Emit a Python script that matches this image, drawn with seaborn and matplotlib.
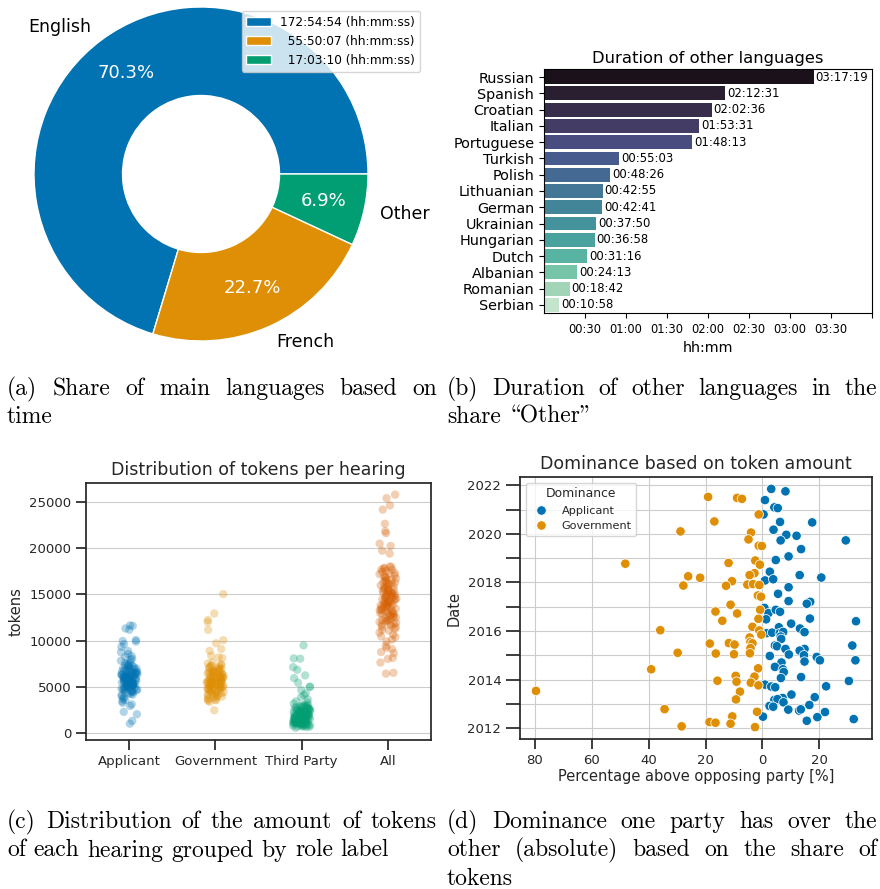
import numpy as np
import pandas as pd
import seaborn as sns
import matplotlib.pyplot as plt
from matplotlib.ticker import FuncFormatter, MultipleLocator

# ---- data: (a) main languages ----
main_langs = ["English", "French", "Other"]
main_durations = ["172:54:54", "55:50:07", "17:03:10"]

# ---- data: (b) other languages ----
other_langs = ["Russian", "Spanish", "Croatian", "Italian", "Portuguese", "Turkish",
               "Polish", "Lithuanian", "German", "Ukrainian", "Hungarian", "Dutch",
               "Albanian", "Romanian", "Serbian"]
other_durations = ["03:17:19", "02:12:31", "02:02:36", "01:53:31", "01:48:13", "00:55:03",
                   "00:48:26", "00:42:55", "00:42:41", "00:37:50", "00:36:58", "00:31:16",
                   "00:24:13", "00:18:42", "00:10:58"]

# ---- data: (c) tokens per hearing ----
roles = ["Applicant", "Government", "Third Party", "All"]
applicant_tokens = [11640, 11590, 11310, 11170, 10060, 9890, 9950, 9610, 9320, 8870, 8730, 8540,
                    8310, 8220, 8010, 7940, 7820, 7610, 7570, 7460, 7330, 7270, 7190, 7030, 6990,
                    6910, 6840, 6730, 6720, 6640, 6570, 6510, 6480, 6420, 6370, 6290, 6260, 6230,
                    6170, 6120, 6080, 6010, 5990, 5960, 5910, 5870, 5820, 5760, 5740, 5680, 5620,
                    5580, 5530, 5490, 5440, 5390, 5350, 5280, 5230, 5210, 5160, 5090, 5040, 4990,
                    4960, 4880, 4810, 4770, 4710, 4650, 4540, 4470, 4410, 4290, 4230, 4120, 3980,
                    3850, 3690, 3440, 3260, 2930, 2280, 2030, 1310, 1010,
                    4150, 4380, 4620, 4890, 5060, 5190, 5320, 5470, 5560, 5640, 5710, 5790, 5850,
                    5940, 6040, 6110, 6190, 6320, 6440, 6590, 6680, 6810, 6960, 7120, 7380, 5030,
                    5510, 6060, 6250, 5880, 4560, 4730, 5400, 6350, 4920, 5250, 6700, 7220, 3570,
                    3100]
government_tokens = [15030, 12920, 12230, 11990, 11160, 10040, 9710, 9090, 8880, 8350, 8180, 8110,
                     7630, 7510, 7360, 7280, 7170, 7090, 7010, 6940, 6860, 6790, 6720, 6650, 6590,
                     6530, 6470, 6410, 6340, 6290, 6240, 6180, 6130, 6070, 6020, 5980, 5930, 5880,
                     5840, 5790, 5730, 5690, 5640, 5600, 5560, 5510, 5470, 5420, 5380, 5330, 5290,
                     5240, 5200, 5150, 5110, 5060, 5010, 4970, 4920, 4860, 4810, 4750, 4690, 4620,
                     4560, 4490, 4420, 4350, 4270, 4190, 4110, 4030, 3940, 3850, 3730, 3620, 3540,
                     3470, 3390, 2460,
                     3610, 3880, 4050, 4240, 4460, 4640, 4780, 4950, 5080, 5170, 5270, 5350, 5450,
                     5530, 5620, 5760, 5850, 5950, 6050, 6150, 6310, 6440, 6560, 6700, 6880, 7060,
                     7240, 7420, 4400, 5700, 6000, 5400, 4900, 5000, 6600]
third_party_tokens = [9480, 8070, 8040, 7120, 6830, 6230, 5940, 5430, 5020, 4970, 4630, 4280, 4110,
                      3870, 3640, 3420, 3310, 3180, 3060, 2980, 2920, 2870, 2810, 2760, 2730, 2680,
                      2620, 2590, 2540, 2490, 2450, 2410, 2370, 2330, 2290, 2260, 2220, 2180, 2150,
                      2110, 2080, 2040, 2010, 1980, 1950, 1920, 1890, 1860, 1830, 1800, 1770, 1740,
                      1710, 1690, 1660, 1630, 1600, 1580, 1550, 1520, 1490, 1470, 1440, 1410, 1390,
                      1360, 1330, 1310, 1280, 1250, 1230, 1200, 1170, 1140, 1120, 1090, 1060, 1030,
                      1000, 970, 940, 910, 880, 850, 810, 770, 720, 680, 630, 560,
                      700, 820, 960, 1050, 1150, 1210, 1320, 1420, 1540, 1610, 1720, 1850, 1960,
                      2060, 2200, 2350, 2480, 2650, 1100, 1500, 1900, 1380, 1680, 2130, 940, 1260,
                      780, 1580, 2400, 2900, 3000, 2780]
all_tokens = [25790, 25410, 24630, 24170, 22640, 21830, 21620, 20490, 20240, 19730, 19410, 18020,
              17960, 17870, 17790, 17650, 17530, 17440, 17310, 17180, 17060, 16940, 16870, 16720,
              16610, 16540, 16390, 16280, 16170, 16050, 15980, 15870, 15760, 15690, 15580, 15470,
              15390, 15310, 15220, 15140, 15060, 14970, 14890, 14810, 14730, 14640, 14550, 14470,
              14390, 14310, 14220, 14140, 14060, 13980, 13890, 13810, 13720, 13640, 13550, 13460,
              13380, 13290, 13210, 13120, 13030, 12940, 12860, 12770, 12680, 12590, 12510, 12420,
              12330, 12240, 12150, 12060, 11940, 11830, 11710, 11590, 11430, 11260, 11090, 10880,
              10640, 10370, 10110, 9890, 9440, 9080, 8760, 8130, 8020, 7620, 6510, 6420,
              10450, 11180, 11820, 12200, 12640, 13000, 13330, 13590, 13850, 14100, 14350, 14600,
              14900, 15180, 15430, 15820, 16110, 16480, 16800, 17250, 17700, 13250, 14030, 14680,
              15540, 12890, 14460, 16330, 11520, 12020, 9220, 8640, 15010, 13700]

# ---- data: (d) dominance (government plotted on the negative side) ----
applicant_pct = [3.1, 8.1, 0.9, 4.2, 5.4, 0.4, 6.2, 17.5, 3.9, 8.4, 12.0, 6.4, 29.3, 13.6, 9.2,
                 4.7, 2.6, 13.1, 20.7, 0.9, 3.8, 9.2, 5.5, 9.2, 16.8, 15.6, 0.7, 2.1, 4.7, 6.2,
                 1.3, 16.7, 32.9, 10.1, 5.8, 13.2, 14.8, 1.5, 3.4, 6.1, 7.3, 6.4, 6.6, 4.4, 5.1,
                 31.6, 8.1, 14.8, 13.1, 2.6, 9.3, 14.6, 19.1, 14.8, 20.2, 32.7, 6.7, 4.4, 7.2,
                 7.5, 6.5, 13.6, 30.4, 0.9, 3.1, 4.5, 22.4, 10.2, 7.1, 4.2, 5.3, 18.4, 7.4, 2.5,
                 3.8, 16.5, 9.1, 12.9, 13.5, 22.0, 0.2, 19.3, 15.6, 32.1]
applicant_date = [2021.85, 2021.75, 2021.39, 2021.09, 2021.06, 2020.80, 2020.49, 2020.47, 2020.17,
                  2019.96, 2019.92, 2019.73, 2019.73, 2019.37, 2019.07, 2018.92, 2018.44, 2018.30,
                  2018.20, 2018.08, 2018.13, 2017.80, 2017.53, 2017.23, 2017.20, 2017.12, 2016.95,
                  2016.73, 2016.87, 2016.79, 2016.48, 2016.51, 2016.40, 2016.30, 2016.15, 2016.10,
                  2015.95, 2015.91, 2015.93, 2015.91, 2015.96, 2015.77, 2015.67, 2015.40, 2015.37,
                  2015.40, 2015.26, 2015.26, 2015.19, 2014.97, 2015.03, 2015.00, 2014.93, 2014.74,
                  2014.79, 2014.79, 2014.70, 2014.52, 2014.42, 2014.31, 2014.06, 2014.10, 2013.94,
                  2013.79, 2013.71, 2013.68, 2013.72, 2013.38, 2013.24, 2013.16, 2013.19, 2013.27,
                  2013.06, 2012.91, 2012.88, 2012.95, 2012.76, 2012.72, 2012.77, 2012.66, 2012.47,
                  2012.45, 2012.30, 2012.37]
government_pct = [-19.1, -8.9, -7.2, -1.3, -16.9, -28.8, -4.0, -4.9, -1.3, -0.2, -48.2, -11.9, -2.5,
                  -0.9, -26.1, -21.9, -2.8, -4.5, -10.7, -27.8, -12.8, -5.3, -3.3, -1.1, -1.6, -0.5,
                  -11.2, -16.5, -8.9, -0.8, -14.1, -1.4, -35.9, -3.5, -1.1, -0.4, -4.5, -4.2, -3.5,
                  -18.5, -11.8, -9.8, -4.2, -29.8, -16.4, -10.0, -4.4, -39.1, -1.5, -9.4, -2.8,
                  -15.8, -9.1, -4.1, -1.4, -79.6, -7.9, -9.3, -34.4, -1.9, -10.6, -18.6, -16.5,
                  -11.2, -28.4, -2.6]
government_date = [2021.52, 2021.48, 2021.44, 2020.80, 2020.51, 2020.10, 2020.05, 2019.77, 2019.51,
                   2019.50, 2018.77, 2018.80, 2018.90, 2018.73, 2018.25, 2018.19, 2018.38, 2018.30,
                   2018.05, 2017.87, 2017.86, 2017.91, 2017.93, 2017.89, 2017.46, 2017.41, 2017.08,
                   2016.80, 2016.72, 2016.87, 2016.42, 2016.50, 2016.03, 2016.17, 2016.02, 2015.85,
                   2015.73, 2015.55, 2015.49, 2015.48, 2015.50, 2015.44, 2015.29, 2015.10, 2015.07,
                   2015.04, 2015.08, 2014.42, 2014.46, 2014.15, 2014.12, 2013.95, 2013.91, 2013.87,
                   2013.76, 2013.53, 2013.50, 2013.18, 2012.78, 2012.67, 2012.48, 2012.25, 2012.22,
                   2012.18, 2012.07, 2012.04]

# ---- captions ----
captions = {
    "a": ["(a) Share of main languages based on", "time"],
    "b": ["(b) Duration of other languages in the", "share \\Other\""],
    "c": ["(c) Distribution of the amount of tokens", "of each hearing grouped by role label"],
    "d": ["(d) Dominance one party has over the", "other (absolute) based on the share of", "tokens"],
}

W, H = 880, 889


def rect(x0, y0, x1, y1):
    return [x0 / W, 1 - y1 / H, (x1 - x0) / W, (y1 - y0) / H]


def to_seconds(s):
    h, m, sec = (int(v) for v in s.split(":"))
    return h * 3600 + m * 60 + sec


fig = plt.figure(figsize=(W / 100, H / 100), dpi=100)
cb = sns.color_palette("colorblind")

# ---------- (a) donut ----------
ax_a = fig.add_axes(rect(34, 7, 368, 341))
main_secs = [to_seconds(d) for d in main_durations]
wedges, texts, autotexts = ax_a.pie(
    main_secs, labels=main_langs, colors=cb[:3], autopct="%.1f%%",
    pctdistance=0.75, labeldistance=1.1,
    wedgeprops=dict(width=0.53, edgecolor="white", linewidth=1),
    textprops=dict(fontsize=12.5))
for t in autotexts:
    t.set_color("white")
    t.set_fontsize(13)
ax_a.set_xlim(-1, 1)
ax_a.set_ylim(-1, 1)
leg_labels = [f"{d:>9} (hh:mm:ss)".replace(" ", "\u2007", 9 - len(d)) for d in main_durations]
ax_a.legend(wedges, leg_labels, loc="upper right", bbox_to_anchor=(420 / W, 1 - 11 / H),
            bbox_transform=fig.transFigure, borderaxespad=0, fontsize=8.7)

# ---------- (b) other languages ----------
ax_b = fig.add_axes(rect(544, 69, 872, 313))
other_secs = [to_seconds(d) for d in other_durations]
sns.barplot(x=other_secs, y=other_langs, hue=other_langs, palette="mako", legend=False,
            width=0.85, orient="h", ax=ax_b)
for cont, lab in zip(ax_b.containers, other_durations):
    ax_b.bar_label(cont, labels=[lab], padding=1.5, fontsize=8.4)
ax_b.set_xlim(0, 14400)
ax_b.set_xticks(range(1800, 14401, 1800))
ax_b.xaxis.set_major_formatter(FuncFormatter(
    lambda v, p: "" if v >= 14400 else f"{int(v // 3600):02d}:{int(v % 3600 // 60):02d}"))
ax_b.tick_params(axis="x", labelsize=8.3)
ax_b.tick_params(axis="y", labelsize=10.4)
ax_b.set_xlabel("hh:mm", fontsize=10.3)
ax_b.set_ylabel("")
ax_b.set_title("Duration of other languages", fontsize=11.8, pad=4)

# ---------- (c) strip plot ----------
tok_df = pd.DataFrame({
    "role": [roles[0]] * len(applicant_tokens) + [roles[1]] * len(government_tokens)
            + [roles[2]] * len(third_party_tokens) + [roles[3]] * len(all_tokens),
    "tokens": applicant_tokens + government_tokens + third_party_tokens + all_tokens,
})
dark = "#262626"
with sns.axes_style("ticks", {"axes.grid": True, "grid.color": ".8"}):
    ax_c = fig.add_axes(rect(86, 483, 431, 740))
    np.random.seed(3)
    sns.stripplot(data=tok_df, x="role", y="tokens", hue="role", palette=cb[:4],
                  alpha=0.3, size=6, jitter=True, legend=False, ax=ax_c)
    ax_c.set_ylim(-760, 27050)
    ax_c.set_xlabel("")
    ax_c.set_ylabel("tokens", fontsize=10.5)
    ax_c.set_title("Distribution of tokens per hearing", fontsize=12.5, pad=6)
    ax_c.tick_params(labelsize=9.5, length=7, width=1.25, colors=dark)
    for s in ax_c.spines.values():
        s.set_linewidth(1.25)

    # ---------- (d) scatter ----------
    dom_df = pd.DataFrame({
        "pct": applicant_pct + government_pct,
        "date": applicant_date + government_date,
        "Dominance": ["Applicant"] * len(applicant_pct) + ["Government"] * len(government_pct),
    })
    ax_d = fig.add_axes(rect(520, 477, 872, 739))
    sns.scatterplot(data=dom_df, x="pct", y="date", hue="Dominance",
                    hue_order=["Applicant", "Government"], palette=cb[:2], s=46, ax=ax_d)
    ax_d.xaxis.set_major_formatter(FuncFormatter(lambda v, p: f"{abs(v):.0f}"))
    ax_d.yaxis.set_major_locator(MultipleLocator(1))
    ax_d.yaxis.set_major_formatter(FuncFormatter(
        lambda v, p: f"{int(round(v))}" if int(round(v)) % 2 == 0 else ""))
    ax_d.set_xlabel("Percentage above opposing party [%]", fontsize=10.5, labelpad=2)
    ax_d.set_ylabel("Date", fontsize=10.5)
    ax_d.set_title("Dominance based on token amount", fontsize=12.5, pad=6)
    ax_d.tick_params(labelsize=9.5, width=1.25, colors=dark)
    ax_d.tick_params(axis="x", length=7)
    ax_d.tick_params(axis="y", length=10)
    for s in ax_d.spines.values():
        s.set_linewidth(1.25)
    ax_d.legend(title="Dominance", loc="upper left", fontsize=8.1, title_fontsize=8.9)

# ---------- captions (justified, LaTeX-like) ----------
renderer = fig.canvas.get_renderer()
cap_fs = 17
space_px = 0.333 * cap_fs * 100 / 72


def caption(lines, x0, x1, baselines):
    for i, (line, yb) in enumerate(zip(lines, baselines)):
        words = line.split(" ")
        objs = [fig.text(0, 1 - yb / H, w, fontsize=cap_fs, family="cmr10", va="baseline")
                for w in words]
        widths = [o.get_window_extent(renderer).width for o in objs]
        last = i == len(lines) - 1
        gap = space_px if last or len(words) == 1 else (x1 - x0 - sum(widths)) / (len(words) - 1)
        x = x0
        for o, w in zip(objs, widths):
            o.set_x(x / W)
            x += w + gap


caption(captions["a"], 7, 437, [395, 423])
caption(captions["b"], 447, 877, [395, 423])
caption(captions["c"], 7, 437, [828, 856.5])
caption(captions["d"], 447, 877, [828, 856.5, 885])

fig.savefig("out.png", dpi=100)
